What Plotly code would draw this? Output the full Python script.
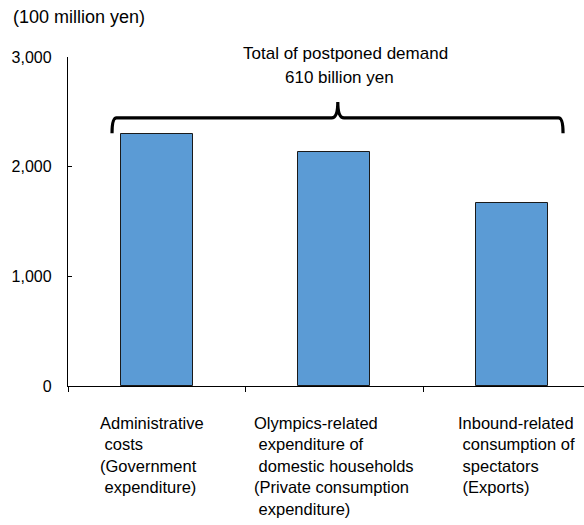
import plotly.graph_objects as go

# ---- data ----
categories = [
    "Administrative<br>\u00a0costs<br>(Government<br>\u00a0expenditure)",
    "Olympics-related<br>\u00a0expenditure of<br>\u00a0domestic households<br>(Private consumption<br>\u00a0expenditure)",
    "Inbound-related<br>\u00a0consumption of<br>\u00a0spectators<br>\u00a0(Exports)",
]
values = [2300, 2130, 1670]
y_ticks = [0, 1000, 2000, 3000]
y_tick_labels = ["0", "1,000", "2,000", "3,000"]
unit_label = "(100 million yen)"
brace_line1 = "Total of postponed demand"
brace_line2 = "610 billion yen"

FONT = "Liberation Sans, Arial, sans-serif"
idx = list(range(len(values)))
label_shift = [-5, 0, 5]

fig = go.Figure()
fig.add_trace(go.Bar(
    x=idx, y=values, width=0.405,
    marker=dict(color="#5B9BD5", line=dict(color="#1a1a1a", width=1)),
    hoverinfo="skip",
))

# brace geometry derived from data
ymax = max(values)
xL, xR, xM = -0.252, 2.289, 1.02
yB = ymax + 5
yL = ymax + 145
yT = ymax + 290
dxc, dxm = 0.025, 0.035
path = (f"M {xL},{yB} Q {xL},{yL} {xL+dxc},{yL} "
        f"L {xM-dxm},{yL} Q {xM},{yL} {xM},{yT} "
        f"Q {xM},{yL} {xM+dxm},{yL} "
        f"L {xR-dxc},{yL} Q {xR},{yL} {xR},{yB}")
fig.add_shape(type="path", path=path, xref="x", yref="y",
              line=dict(color="black", width=3.2))

annotations = [
    dict(text=brace_line1, x=1.065, y=1.012, xref="x", yref="paper",
         showarrow=False, xanchor="center", yanchor="middle",
         font=dict(family=FONT, size=17, color="black")),
    dict(text=brace_line2, x=1.03, y=0.939, xref="x", yref="paper",
         showarrow=False, xanchor="center", yanchor="middle",
         font=dict(family=FONT, size=17, color="black")),
]
for i, lab in enumerate(categories):
    annotations.append(dict(
        text=lab, x=i, y=-0.079, xref="x", yref="paper", xshift=label_shift[i],
        showarrow=False, xanchor="center", yanchor="top", align="left",
        font=dict(family=FONT, size=16.5, color="black"),
    ))

fig.update_layout(
    width=584, height=525,
    margin=dict(l=68, r=0, t=57, b=139),
    paper_bgcolor="white", plot_bgcolor="white",
    showlegend=False,
    bargap=0,
    font=dict(family=FONT, size=16, color="black"),
    title=dict(text=unit_label, x=13/584, xanchor="left", xref="container",
               y=1-17/525, yanchor="middle", yref="container",
               font=dict(family=FONT, size=18, color="black")),
    annotations=annotations,
)
fig.update_xaxes(
    type="linear", range=[-0.5, 2.407],
    tickvals=[-0.5, 0.5, 1.5, 2.5], ticktext=["", "", "", ""],
    ticks="outside", ticklen=5, tickcolor="black", tickwidth=1,
    showline=True, linecolor="black", linewidth=1.3,
    showgrid=False, zeroline=False, fixedrange=True,
)
fig.update_yaxes(
    range=[0, 3000], tickvals=y_ticks, ticktext=y_tick_labels,
    ticks="inside", ticklen=4, tickcolor="black", tickwidth=1.3,
    showline=True, linecolor="black", linewidth=1.3,
    showgrid=False, zeroline=False, ticklabelstandoff=12,
    tickfont=dict(family=FONT, size=16, color="black"),
)

fig.write_html("out.html")
